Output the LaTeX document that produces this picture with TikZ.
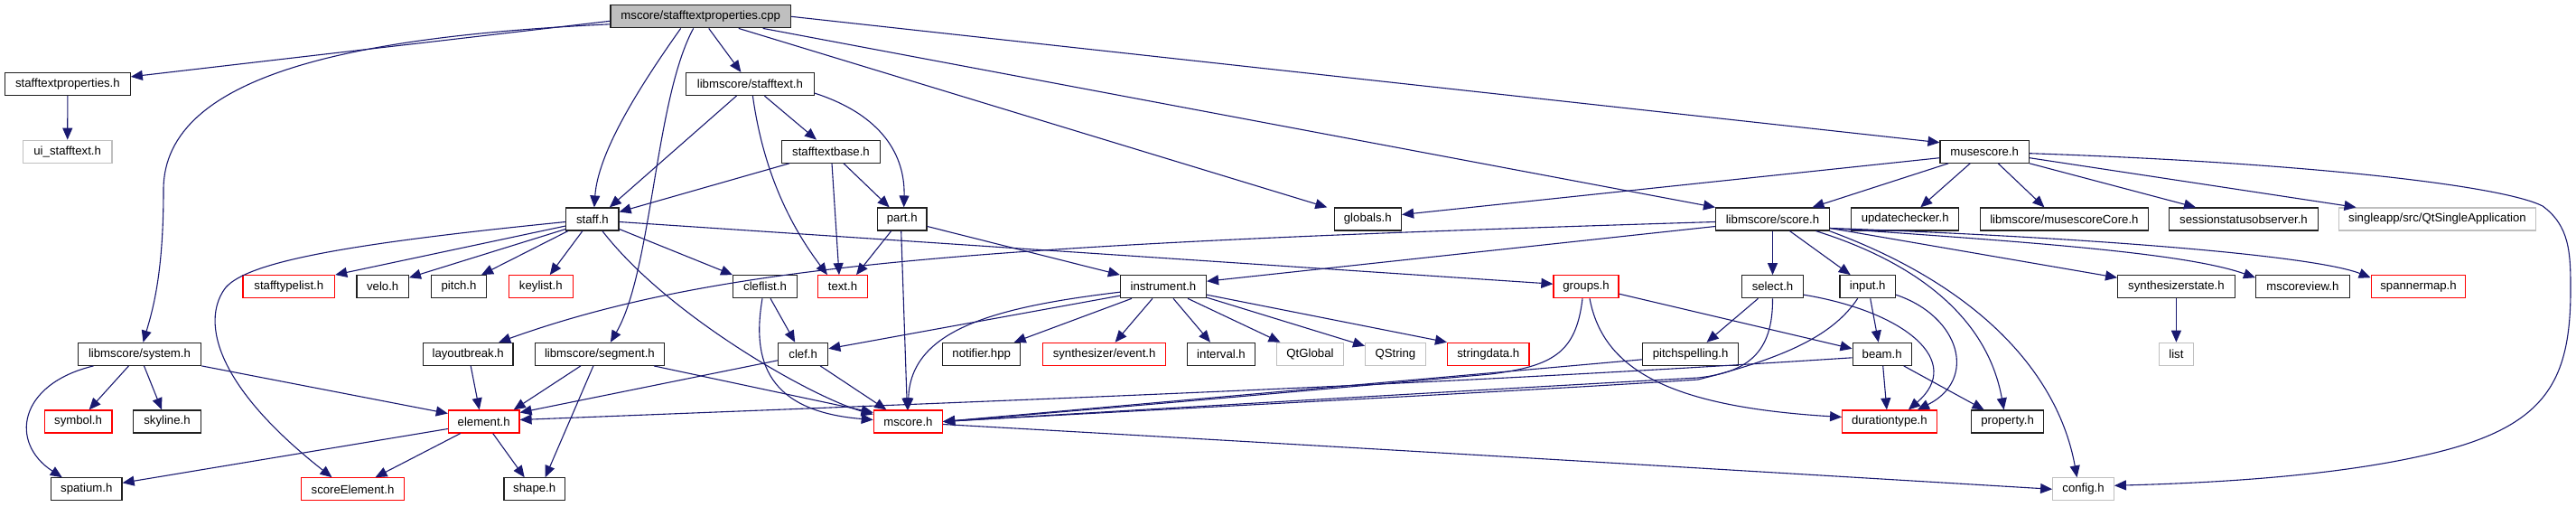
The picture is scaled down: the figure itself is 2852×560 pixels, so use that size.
\documentclass[tikz,border=0pt]{standalone}
\usepackage{fontspec}
\setmainfont{Liberation Sans}
\usetikzlibrary{arrows.meta}
\definecolor{edgec}{HTML}{191970}
\definecolor{redb}{HTML}{FF0000}
\definecolor{greyb}{HTML}{BFBFBF}
\definecolor{blackb}{HTML}{202020}
\begin{document}
\begin{tikzpicture}[x=1pt,y=-1pt,
  nb/.style={draw=blackb,line width=1.2pt,fill=white,minimum height=25pt,inner sep=0pt,font=\fontsize{13.2}{15}\selectfont},
  rb/.style={nb,draw=redb},
  gb/.style={nb,draw=greyb},
  mb/.style={nb,fill=greyb},
  ed/.style={draw=edgec,line width=1.1pt,-{Triangle[length=13pt,width=11pt]}}]
\useasboundingbox[fill=white] (0,0) rectangle (2852,560);
% nodes
\node[mb,minimum width=199.4pt] (main) at (775.7,18.3) {mscore/stafftextproperties.cpp};
\node[nb,minimum width=138.7pt] (stph) at (74.9,93) {stafftextproperties.h};
\node[gb,minimum width=98.7pt] (ui) at (74.7,167.7) {ui\_stafftext.h};
\node[nb,minimum width=136.4pt] (sysh) at (154.5,391.8) {libmscore/system.h};
\node[nb,minimum width=58.2pt] (staff) at (655.9,242.5) {staff.h};
\node[rb,minimum width=101.6pt] (stl) at (319.8,317.2) {stafftypelist.h};
\node[nb,minimum width=57.3pt] (velo) at (423.7,317.2) {velo.h};
\node[nb,minimum width=61.1pt] (pitch) at (508,317.2) {pitch.h};
\node[rb,minimum width=70.7pt] (keylist) at (598.8,317.2) {keylist.h};
\node[nb,minimum width=99.6pt] (layoutbreak) at (518.2,391.8) {layoutbreak.h};
\node[nb,minimum width=143.1pt] (segment) at (663.9,391.8) {libmscore/segment.h};
\node[rb,minimum width=74.9pt] (symbol) at (86.6,466.5) {symbol.h};
\node[nb,minimum width=75.3pt] (skyline) at (185,466.5) {skyline.h};
\node[rb,minimum width=78.6pt] (element) at (535.7,466.5) {element.h};
\node[nb,minimum width=78.5pt] (spatium) at (95.8,541.3) {spatium.h};
\node[rb,minimum width=113.4pt] (scoreelement) at (390.5,541.3) {scoreElement.h};
\node[nb,minimum width=67.5pt] (shape) at (591.7,541.3) {shape.h};
\node[nb,minimum width=141.4pt] (stafftext) at (830.4,93) {libmscore/stafftext.h};
\node[nb,minimum width=109.3pt] (stbase) at (920,167.7) {stafftextbase.h};
\node[nb,minimum width=54.6pt] (part) at (998.7,242.5) {part.h};
\node[nb,minimum width=70.7pt] (cleflist) at (847,317.2) {cleflist.h};
\node[rb,minimum width=54.7pt] (text) at (933,317.2) {text.h};
\node[nb,minimum width=95pt] (instrument) at (1288,317.2) {instrument.h};
\node[nb,minimum width=55.1pt] (clef) at (889.2,391.8) {clef.h};
\node[nb,minimum width=86.3pt] (notifier) at (1086.7,391.8) {notifier.hpp};
\node[rb,minimum width=135.9pt] (event) at (1222.6,391.8) {synthesizer/event.h};
\node[nb,minimum width=75.3pt] (interval) at (1352,391.8) {interval.h};
\node[gb,minimum width=73.4pt] (qtglobal) at (1450.5,391.8) {QtGlobal};
\node[gb,minimum width=66.6pt] (qstring) at (1544.9,391.8) {QString};
\node[rb,minimum width=90.5pt] (stringdata) at (1647.8,391.8) {stringdata.h};
\node[rb,minimum width=76.3pt] (mscore) at (1005.4,466.5) {mscore.h};
\node[nb,minimum width=74.4pt] (globals) at (1514.3,242.5) {globals.h};
\node[nb,minimum width=125.8pt] (score) at (1962.5,242.5) {libmscore/score.h};
\node[nb,minimum width=118.9pt] (updatechecker) at (2109.2,242.5) {updatechecker.h};
\node[rb,minimum width=72.1pt] (groups) at (1756,317.2) {groups.h};
\node[nb,minimum width=68pt] (select) at (1962.5,317.2) {select.h};
\node[nb,minimum width=61.5pt] (input) at (2067.7,317.2) {input.h};
\node[nb,minimum width=105.6pt] (pitchspelling) at (1871.6,391.8) {pitchspelling.h};
\node[nb,minimum width=65.2pt] (beam) at (2083.7,391.8) {beam.h};
\node[rb,minimum width=104.5pt] (durationtype) at (2091.9,466.5) {durationtype.h};
\node[nb,minimum width=98.3pt] (musescore) at (2197.2,167.7) {musescore.h};
\node[nb,minimum width=185.6pt] (mscorecore) at (2285.4,242.5) {libmscore/musescoreCore.h};
\node[nb,minimum width=164.5pt] (session) at (2484,242.5) {sessionstatusobserver.h};
\node[gb,minimum width=217.7pt] (singleapp) at (2698.5,242.5) {singleapp/src/QtSingleApplication};
\node[nb,minimum width=129.5pt] (synthstate) at (2409.4,317.2) {synthesizerstate.h};
\node[nb,minimum width=103.6pt] (mscoreview) at (2549.4,317.2) {mscoreview.h};
\node[rb,minimum width=104.5pt] (spannermap) at (2677.5,317.2) {spannermap.h};
\node[gb,minimum width=38.3pt] (list) at (2409.4,391.8) {list};
\node[nb,minimum width=80.1pt] (property) at (2222.6,466.5) {property.h};
\node[gb,minimum width=67.6pt] (config) at (2306.5,541.3) {config.h};
% edges from main
\draw[ed] ([yshift=-5]main.west) -- (stph);
\draw[ed] ([yshift=-8.5]main.west) .. controls (400,40) and (181,80) .. (181,210) .. controls (181,300) and (170,340) .. ([xshift=4]sysh.north);
\draw[ed] ([xshift=-22]main.south) .. controls (705,100) and (662,170) .. ([xshift=2]staff.north);
\draw[ed] ([xshift=-8]main.south) .. controls (725,110) and (722,300) .. ([xshift=12]segment.north);
\draw[ed] ([xshift=9]main.south) -- ([xshift=-10]stafftext.north);
\draw[ed] ([xshift=42]main.south) -- ([xshift=-45]globals.north);
\draw[ed] ([xshift=69]main.south) -- (score.north west);
\draw[ed] (main.east) -- ([yshift=10]musescore.west);
\draw[ed] (stph) -- (ui);
% stafftext
\draw[ed] ([xshift=-15]stafftext.south) -- ([xshift=19]staff.north);
\draw[ed] ([xshift=3]stafftext.south) .. controls (845,190) and (875,250) .. ([xshift=-17]text.north);
\draw[ed] ([xshift=16]stafftext.south) -- ([xshift=-16]stbase.north);
\draw[ed] ([yshift=-10]stafftext.east) .. controls (985,130) and (1002,180) .. ([xshift=2]part.north);
% stafftextbase
\draw[ed] ([xshift=-46]stbase.south) -- ([yshift=8]staff.east);
\draw[ed] ([xshift=1]stbase.south) -- ([xshift=-4]text.north);
\draw[ed] ([xshift=14]stbase.south) -- ([xshift=-14]part.north);
% part
\draw[ed] ([xshift=-12]part.south) -- ([xshift=15]text.north);
\draw[ed] ([xshift=-1]part.south) -- ([xshift=-1]mscore.north);
\draw[ed] ([yshift=-8]part.east) -- (instrument.north west);
% staff
\draw[ed] ([yshift=-7.5]staff.west) -- (stl.north east);
\draw[ed] ([yshift=-11]staff.west) -- ([yshift=10]velo.east);
\draw[ed] ([xshift=-27]staff.south) -- ([xshift=25]pitch.north);
\draw[ed] ([xshift=-11]staff.south) -- ([xshift=10]keylist.north);
\draw[ed] ([yshift=-11]staff.east) -- (cleflist.north west);
\draw[ed] ([yshift=-3]staff.east) -- ([yshift=3]groups.west);
\draw[ed] ([yshift=-3]staff.west) .. controls (380,270) and (275,290) .. (250,318) .. controls (225,350) and (230,420) .. ([xshift=-23]scoreelement.north);
\draw[ed] ([xshift=11]staff.south) .. controls (740,350) and (900,440) .. ([yshift=8]mscore.west);
% cleflist, clef
\draw[ed] ([xshift=6]cleflist.south) -- ([xshift=-9]clef.north);
\draw[ed] ([xshift=-3]cleflist.south) .. controls (832,400) and (850,455) .. ([yshift=2]mscore.west);
\draw[ed] ([xshift=19]clef.south) -- ([xshift=-24]mscore.north);
\draw[ed] ([yshift=-7]clef.west) -- ([yshift=10]element.east);
% instrument
\draw[ed] ([yshift=-10]instrument.west) -- ([yshift=6]clef.east);
\draw[ed] ([yshift=-6]instrument.west) .. controls (1100,340) and (1008,365) .. (mscore.north);
\draw[ed] ([xshift=-35]instrument.south) -- ([xshift=36]notifier.north);
\draw[ed] ([xshift=-12]instrument.south) -- ([xshift=12]event.north);
\draw[ed] ([xshift=11]instrument.south) -- ([xshift=-12]interval.north);
\draw[ed] ([xshift=27]instrument.south) -- ([xshift=-33]qtglobal.north);
\draw[ed] ([yshift=-12]instrument.east) -- ([yshift=9]qstring.west);
\draw[ed] ([yshift=-9]instrument.east) -- (stringdata.north west);
% score
\draw[ed] ([yshift=-8]score.west) -- ([yshift=6]instrument.east);
\draw[ed] ([yshift=-3]score.west) .. controls (1100,270) and (800,290) .. ([xshift=34]layoutbreak.north);
\draw[ed] (score.south) -- (select.north);
\draw[ed] ([xshift=19]score.south) -- ([xshift=-19]input.north);
\draw[ed] ([xshift=48]score.south) .. controls (2120,290) and (2200,350) .. ([xshift=-4]property.north);
\draw[ed] ([xshift=63]score.south) .. controls (2200,320) and (2280,420) .. ([xshift=-7]config.north);
\draw[ed] ([yshift=-10]score.east) -- ([yshift=10]synthstate.west);
\draw[ed] ([yshift=-10]score.east) .. controls (2250,268) and (2420,280) .. ([yshift=10]mscoreview.west);
\draw[ed] ([yshift=-10]score.east) .. controls (2300,262) and (2560,282) .. ([yshift=10]spannermap.west);
% select
\draw[ed] ([xshift=-16]select.south) -- ([xshift=18]pitchspelling.north);
\draw[ed] (select.south) .. controls (1963,390) and (1935,412) .. (1880,418) .. controls (1700,428) and (1300,451) .. (mscore.east);
\draw[ed] ([yshift=-9]select.east) .. controls (2110,345) and (2175,400) .. ([xshift=21]durationtype.north);
% input
\draw[ed] ([xshift=3]input.south) -- ([xshift=-4]beam.north);
\draw[ed] ([xshift=-11]input.south) .. controls (2030,370) and (1980,395) .. (1880,420) .. controls (1700,432) and (1300,452) .. (mscore.east);
\draw[ed] ([yshift=-9]input.east) .. controls (2170,350) and (2190,420) .. ([xshift=31]durationtype.north);
% groups
\draw[ed] ([xshift=-4]groups.south) .. controls (1745,390) and (1720,405) .. (1650,414) .. controls (1450,432) and (1250,450) .. (mscore.east);
\draw[ed] ([yshift=-8]groups.east) -- ([yshift=6]beam.west);
\draw[ed] ([xshift=4]groups.south) .. controls (1775,410) and (1850,450) .. ([yshift=5]durationtype.west);
% pitchspelling, beam
\draw[ed] ([yshift=-6]pitchspelling.west) -- (mscore.east);
\draw[ed] ([yshift=-4]beam.west) .. controls (1600,425) and (1200,440) .. ([yshift=2]element.east);
\draw[ed] ([xshift=1]beam.south) -- ([xshift=-3]durationtype.north);
\draw[ed] ([xshift=24]beam.south) -- ([xshift=-26]property.north);
% musescore
\draw[ed] ([yshift=-7]musescore.west) -- ([yshift=5]globals.east);
\draw[ed] ([xshift=-40]musescore.south) -- ([xshift=44]score.north);
\draw[ed] ([xshift=-16]musescore.south) -- ([xshift=17]updatechecker.north);
\draw[ed] ([xshift=15]musescore.south) -- ([xshift=-22]mscorecore.north);
\draw[ed] (musescore.south east) -- ([xshift=-53]session.north);
\draw[ed] ([yshift=-7]musescore.east) -- ([xshift=-90]singleapp.north);
\draw[ed] ([yshift=-2]musescore.east) .. controls (2550,180) and (2770,205) .. (2815,228) .. controls (2845,250) and (2846,280) .. (2846,320) .. controls (2846,420) and (2820,470) .. (2700,500) .. controls (2580,530) and (2420,535) .. ([yshift=4]config.east);
% mscore, synthstate
\draw[ed] ([yshift=-3]mscore.east) .. controls (1500,495) and (2000,525) .. (config.west);
\draw[ed] (synthstate) -- (list);
% system
\draw[ed] ([xshift=-51]sysh.south) .. controls (20,425) and (10,490) .. ([xshift=-27]spatium.north);
\draw[ed] ([xshift=-12]sysh.south) -- ([xshift=12]symbol.north);
\draw[ed] ([xshift=5]sysh.south) -- ([xshift=-6]skyline.north);
\draw[ed] (sysh.south east) -- ([yshift=9]element.west);
% layoutbreak, segment, element
\draw[ed] ([xshift=3]layoutbreak.south) -- ([xshift=-5]element.north);
\draw[ed] ([xshift=-21]segment.south) -- ([xshift=33]element.north);
\draw[ed] ([xshift=-7]segment.south) -- ([xshift=12]shape.north);
\draw[ed] ([xshift=60]segment.south) -- ([yshift=10]mscore.west);
\draw[ed] ([yshift=-8]element.west) -- ([yshift=7]spatium.east);
\draw[ed] ([xshift=-26]element.south) -- ([xshift=25]scoreelement.north);
\draw[ed] ([xshift=10]element.south) -- ([xshift=-11]shape.north);
\end{tikzpicture}
\end{document}
